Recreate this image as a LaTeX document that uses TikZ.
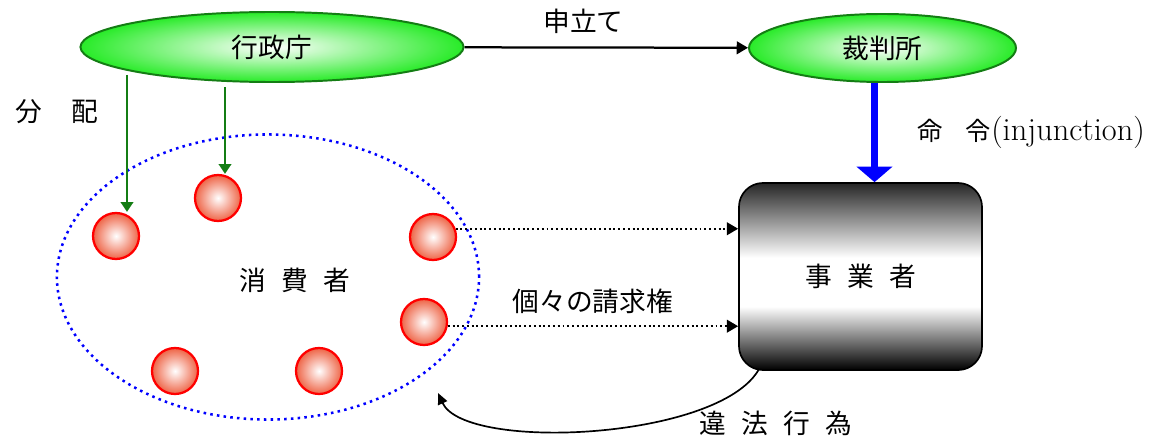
\documentclass[tikz,border=0pt]{standalone}
\usepackage{fontspec}
\newfontfamily\jp{Noto Sans CJK JP}
\usetikzlibrary{arrows.meta,shapes.geometric,calc}

\definecolor{leaf}{RGB}{40,235,40}
\definecolor{darkleaf}{RGB}{20,125,20}
\definecolor{coral}{RGB}{238,100,70}
\pgfdeclareverticalshading{firmshade}{100bp}{color(0bp)=(black); color(25bp)=(black);
  color(42bp)=(white); color(55bp)=(white); color(75bp)=(black!85); color(100bp)=(black!85)}

\begin{document}
\begin{tikzpicture}[x=0.025cm,y=-0.025cm,
    jtext/.style={font=\jp\fontsize{19}{22}\selectfont},
    spaced/.style={font={\jp\fontsize{19}{22}\selectfont\spaceskip=#1\relax}},
    office/.style={ellipse,draw=darkleaf,line width=1.4pt,inner color=white,outer color=leaf,jtext},
    person/.style={circle,draw=red,line width=1.6pt,minimum size=1.15cm,inner sep=0pt,
      inner color=white,outer color=coral},
    dist/.style={-{Triangle[length=7pt,width=9pt]},draw=darkleaf,line width=1.3pt},
    claim/.style={-{Triangle[length=8pt,width=9pt]},dotted,line width=1.4pt}]
  \useasboundingbox (0,0) rectangle (1160,440);

  % offices
  \node[office,minimum width=9.575cm,minimum height=1.75cm] (agency) at (272,47) {行政庁};
  \node[office,minimum width=6.675cm,minimum height=1.7cm] (court) at (882.5,48) {裁判所};

  % consumers
  \node[ellipse,draw=blue,line width=1.8pt,dash pattern=on 1.8pt off 3pt,
    minimum width=10.55cm,minimum height=7.125cm] (market) at (268,277) {};
  \node[spaced=0.57em] (buyers) at (295,280) {消 費 者};
  \node[person] (c1) at (116,236) {};
  \node[person] (c2) at (218,198) {};
  \node[person] (c3) at (433,237) {};
  \node[person] (c4) at (424,322) {};
  \node[person] (c5) at (175,371) {};
  \node[person] (c6) at (319,371) {};

  % business
  \node[draw,line width=1.2pt,rounded corners=0.6cm,shading=firmshade,
    minimum width=6.075cm,minimum height=4.675cm,spaced=0.57em] (firm) at (860.5,276.5) {事 業 者};

  \draw[-{Triangle[length=8pt,width=9pt]},line width=1.6pt] (agency) -- node[pos=0.42,above=6pt,jtext] {申立て} (court);
  \draw[-{Triangle[length=11pt,width=25pt]},blue,line width=5pt]
    ($(court.south)+(-8,0)$) coordinate (o) -- (o |- firm.north)
    node[midway,right=25pt,black] {\jp\fontsize{18}{20}\selectfont 命\hspace{0.9em}令\rmfamily\fontsize{23}{26}\selectfont(injunction)};

  \node[spaced=1.1em] (split) at (57,112) {分 配};
  \draw[dist] ($(agency.south)+(-145,-8)$) coordinate (d1) -- (d1 |- c1.north);
  \draw[dist] ($(agency.south)+(-47,4)$) coordinate (d2) -- (d2 |- c2.north);

  \draw[claim] (c3.20) -- (c3.20 -| firm.west);
  \draw[claim] (c4.-10) -- (c4.-10 -| firm.west) node[midway,above=5pt,jtext,black] {個々の請求権};

  \coordinate (hit) at (438,393);
  \draw[-{Triangle[length=8pt,width=7pt]},line width=1.2pt] ($(firm.south west)+(21,-2)$)
    .. controls (720,440) and (465,452) .. (hit);
  \node[spaced=0.57em] (wrong) at (776,423) {違 法 行 為};
\end{tikzpicture}
\end{document}
